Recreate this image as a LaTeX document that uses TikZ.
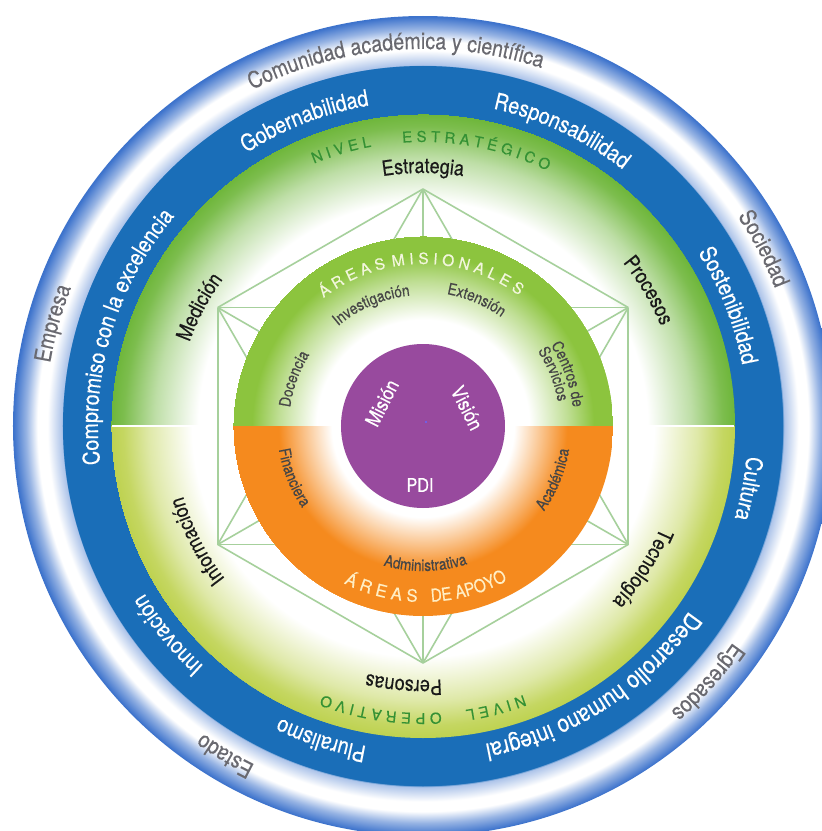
\documentclass[tikz,border=0pt]{standalone}
\usepackage{fontspec}
\setmainfont{TeX Gyre Heros}[FakeStretch=0.85,FakeBold=0.4]
\newfontfamily\headfamily{TeX Gyre Heros}[FakeBold=0.3]
\usetikzlibrary{decorations.text}

\definecolor{bandblue}{RGB}{26,110,184}
\definecolor{ringblue}{RGB}{46,104,200}
\definecolor{fieldgreen}{RGB}{110,182,58}
\definecolor{fieldyellow}{RGB}{190,210,80}
\definecolor{misgreen}{RGB}{140,196,62}
\definecolor{apoyoorange}{RGB}{245,138,30}
\definecolor{pdipurple}{RGB}{152,74,158}
\definecolor{hexgreen}{RGB}{166,208,156}
\definecolor{levelgreen}{RGB}{52,145,52}
\definecolor{ringgray}{RGB}{105,105,112}
\definecolor{areagray}{RGB}{70,70,70}
\definecolor{hexblack}{RGB}{25,25,25}
\definecolor{mishead}{RGB}{242,246,220}
\definecolor{apoyohead}{RGB}{255,238,196}

% radial fills, 25bp is the rim of the filled circle
\pgfdeclareradialshading{outerring}{\pgfpointorigin}{color(0bp)=(bandblue); color(21.9bp)=(bandblue); color(22bp)=(ringblue!40); color(22.9bp)=(white); color(23.5bp)=(white); color(24.2bp)=(ringblue!50); color(25bp)=(ringblue!95); color(25.5bp)=(white)}
\pgfdeclareradialshading{fieldup}{\pgfpointorigin}{color(0bp)=(white); color(18bp)=(white); color(21.5bp)=(fieldgreen!45); color(24bp)=(fieldgreen!90); color(25bp)=(fieldgreen)}
\pgfdeclareradialshading{fielddown}{\pgfpointorigin}{color(0bp)=(white); color(18.5bp)=(white); color(22bp)=(fieldyellow!50); color(24bp)=(fieldyellow!90); color(25bp)=(fieldyellow)}
\pgfdeclareradialshading{misional}{\pgfpointorigin}{color(0bp)=(white); color(14bp)=(white); color(19bp)=(misgreen!55); color(22.5bp)=(misgreen); color(25bp)=(misgreen)}
\pgfdeclareradialshading{apoyo}{\pgfpointorigin}{color(0bp)=(white); color(12bp)=(white); color(15.5bp)=(apoyoorange!50); color(19bp)=(apoyoorange); color(25bp)=(apoyoorange)}

% fonts for the ring texts
\newcommand{\outerfont}{\fontsize{23}{23}\selectfont\color{ringgray}}
\newcommand{\bandfont}{\fontsize{23}{23}\selectfont\color{white}}
\newcommand{\levelfont}{\headfamily\fontsize{15}{15}\selectfont\color{levelgreen}}
\newcommand{\hexfont}{\fontsize{21}{21}\selectfont\color{hexblack}}
\newcommand{\areafont}{\fontsize{16}{16}\selectfont\color{areagray}}
\newcommand{\misfont}{\headfamily\fontsize{15.5}{15.5}\selectfont\color{mishead}}
\newcommand{\apoyofont}{\headfamily\fontsize{17}{17}\selectfont\color{apoyohead}}

% text on a circle: clockwise keeps the tops outside, counter-clockwise inside
\newcommand{\cwlabel}[3]{%
  \path[decorate,decoration={text along path,text align=center,text={#3}}]
    ({#1+75}:#2) arc[start angle={#1+75},end angle={#1-75},radius=#2];}
\newcommand{\ccwlabel}[3]{%
  \path[decorate,decoration={text along path,text align=center,text={#3}}]
    ({#1-75}:#2) arc[start angle={#1-75},end angle={#1+75},radius=#2];}

\tikzset{
  hexline/.style={draw=hexgreen,line width=1.6pt},
  pditext/.style={text=white,font=\fontsize{20}{20}\selectfont,inner sep=0pt}
}

\begin{document}
\begin{tikzpicture}[x=1pt,y=1pt]
    \useasboundingbox (-423,-405) rectangle (399,426);
    \fill[white] (-423,-405) rectangle (399,426);

    % rings
    \shade[shading=outerring] (0,0) circle (410);
    \fill[bandblue] (0,0) circle (360);
    \begin{scope}
      \clip (-312,0) rectangle (312,312);
      \shade[shading=fieldup] (0,0) circle (312);
    \end{scope}
    \begin{scope}
      \clip (-312,-312) rectangle (312,0);
      \shade[shading=fielddown] (0,0) circle (312);
    \end{scope}
    \draw[white,line width=2pt] (180:311) -- (0:311);

    % hexagon with all its diagonals
    \foreach \i in {0,...,5}
        \coordinate (h\i) at ({90-60*\i}:237);
    \foreach \i in {0,...,4} {
        \pgfmathtruncatemacro{\k}{\i+1}
        \foreach \j in {\k,...,5}
            \draw[hexline] (h\i) -- (h\j);
      }

    % mission and support areas
    \begin{scope}
      \clip (-190,0) rectangle (190,190);
      \shade[shading=misional] (0,0) circle (190);
    \end{scope}
    \begin{scope}
      \clip (-190,-190) rectangle (190,0);
      \shade[shading=apoyo] (0,0) circle (190);
    \end{scope}
    \fill[pdipurple] (0,0) circle (82);
    \fill[blue!60] (3,4) circle (1.2);

    \node[pditext,rotate=63] (mision) at (-41,23) {Misión};
    \node[pditext,rotate=-63] (vision) at (44,18) {Visión};
    \node[pditext,font=\fontsize{19}{19}\selectfont] (pdi) at (-3,-59) {PDI};

    % outer ring
    \cwlabel{94.3}{377}{|\outerfont|Comunidad académica y científica}
    \cwlabel{27.5}{378}{|\outerfont|Sociedad}
    \cwlabel{164.5}{378}{|\outerfont|Empresa}
    \cwlabel{-42}{378}{|\outerfont|Egresados}
    \cwlabel{-121}{378}{|\outerfont|Estado}

    % blue band
    \cwlabel{111.2}{325}{|\bandfont|Gobernabilidad}
    \cwlabel{64.8}{325}{|\bandfont|Responsabilidad}
    \cwlabel{21.5}{325}{|\bandfont|Sostenibilidad}
    \cwlabel{-10.9}{325}{|\bandfont|Cultura}
    \cwlabel{-56.9}{324}{|\fontsize{24.5}{24.5}\selectfont\color{white}|Desarrollo humano integral}
    \cwlabel{-108}{325}{|\bandfont|Pluralismo}
    \cwlabel{-140.7}{325}{|\bandfont|Innovación}
    \cwlabel{163.3}{325}{|\bandfont|Compromiso con la excelencia}

    % levels
    \cwlabel{106.5}{284}{|\levelfont|N I V E L}
    \cwlabel{79.1}{284}{|\levelfont|E S T R A T É G I C O}
    \cwlabel{-75.5}{287}{|\levelfont|N I V E L}
    \cwlabel{-98.4}{287}{|\levelfont|O P E R A T I V O}

    % hexagon labels
    \cwlabel{90}{253}{|\hexfont|Estrategia}
    \cwlabel{31}{258}{|\hexfont|Procesos}
    \cwlabel{-33}{258}{|\hexfont|Tecnología}
    \cwlabel{-94.3}{254}{|\hexfont|Personas}
    \cwlabel{-153}{250}{|\hexfont|Información}
    \cwlabel{152}{248}{|\hexfont|Medición}

    % mission areas
    \cwlabel{115.5}{162}{|\misfont|Á R E A S}
    \cwlabel{77.2}{162}{|\misfont|M I S I O N A L E S}
    \cwlabel{113}{131}{|\areafont|Investigación}
    \cwlabel{67}{134}{|\areafont|Extensión}
    \cwlabel{160}{134}{|\areafont|Docencia}
    \cwlabel{19.7}{151}{|\areafont|Centros de}
    \cwlabel{21.7}{137}{|\areafont|Servicios}

    % support areas
    \ccwlabel{-104.3}{176}{|\apoyofont|Á R E A S}
    \ccwlabel{-74.3}{176}{|\fontsize{18}{18}\selectfont\color{apoyohead}|DE APOYO}
    \ccwlabel{-89}{145}{|\areafont|Administrativa}
    \ccwlabel{-158.3}{146}{|\areafont|Financiera}
    \ccwlabel{-22.2}{148}{|\areafont|Académica}
  \end{tikzpicture}
\end{document}
